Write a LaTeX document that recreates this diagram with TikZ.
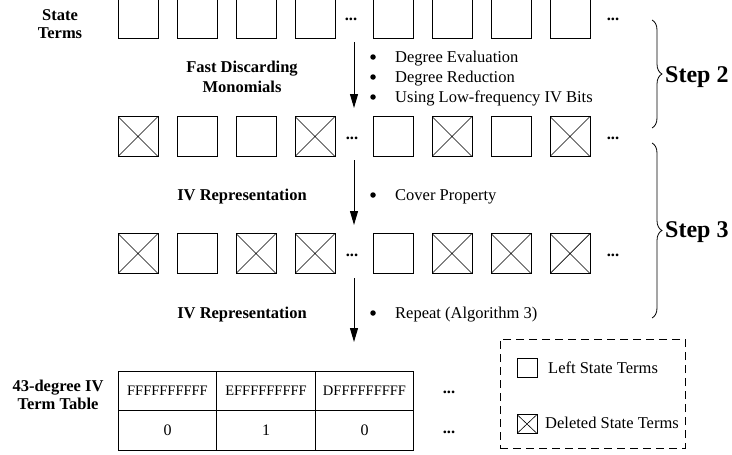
\documentclass[tikz,border=0pt]{standalone}
\usepackage{fontspec}
\setmainfont{Liberation Serif}
\usetikzlibrary{arrows.meta,decorations.pathreplacing}
\begin{document}
\begin{tikzpicture}[x=1pt,y=-1pt,
  sq/.style={draw, line width=0.9pt, minimum size=40pt, inner sep=0pt, outer sep=0pt},
  xsq/.style={sq, path picture={\draw[line width=0.7pt] (path picture bounding box.north west) -- (path picture bounding box.south east) (path picture bounding box.north east) -- (path picture bounding box.south west);}},
  lsq/.style={draw, line width=0.8pt, minimum width=20pt, minimum height=19pt, inner sep=0pt},
  lxsq/.style={lsq, path picture={\draw[line width=0.6pt] (path picture bounding box.north west) -- (path picture bounding box.south east) (path picture bounding box.north east) -- (path picture bounding box.south west);}},
  txt/.style={font=\fontsize{16.5}{19}\selectfont, inner sep=0pt, anchor=base},
  dts/.style={txt, font=\fontsize{16.5}{19}\selectfont\bfseries},
  btxt/.style={txt, font=\fontsize{16.5}{19}\selectfont\bfseries},
  ltxt/.style={txt, anchor=base west},
  bul/.style={circle, fill, inner sep=0pt, minimum size=5.5pt},
  arr/.style={line width=1pt, -{Triangle[width=8pt,length=14pt]}},
  brc/.style={decorate, decoration={brace, amplitude=10pt}, line width=0.8pt},
  steptxt/.style={font=\fontsize{24}{28}\selectfont\bfseries, inner sep=0pt, anchor=base west},
  cell/.style={draw, line width=0.9pt, minimum width=98.3pt, minimum height=39.5pt, inner sep=0pt, font=\fontsize{14.5}{17}\selectfont},
  dcell/.style={cell, font=\fontsize{16}{19}\selectfont}
]
\useasboundingbox (0,0) rectangle (732,455);

% row 1
\foreach \i/\x/\s in {1/138/sq,2/197/sq,3/256/sq,4/315/sq,5/393/sq,6/452/sq,7/511/sq,8/570/sq}
  \node[\s] (ra\i) at (\x,18) {};
% row 2
\foreach \i/\x/\s in {1/138/xsq,2/197/sq,3/256/sq,4/315/xsq,5/393/sq,6/452/xsq,7/511/sq,8/570/xsq}
  \node[\s] (rb\i) at (\x,136.5) {};
% row 3
\foreach \i/\x/\s in {1/138/xsq,2/197/sq,3/256/xsq,4/315/xsq,5/393/sq,6/452/xsq,7/511/xsq,8/570/xsq}
  \node[\s] (rc\i) at (\x,253.5) {};

% dots
\node[dts] (da1) at (351,20) {...};
\node[dts] (da2) at (613,20) {...};
\node[dts] (db1) at (352,139) {...};
\node[dts] (db2) at (613,139) {...};
\node[dts] (dc1) at (352,256) {...};
\node[dts] (dc2) at (613,256) {...};

% left labels
\node[btxt] (st1) at (60,20) {State};
\node[btxt] (st2) at (60,38) {Terms};
\node[btxt] (fd1) at (242,72) {Fast Discarding};
\node[btxt] (fd2) at (242,92) {Monomials};
\node[btxt] (iv1) at (242,200) {IV Representation};
\node[btxt] (iv2) at (242,318) {IV Representation};
\node[btxt] (tt1) at (58,391) {43-degree IV};
\node[btxt] (tt2) at (58,409) {Term Table};

% arrows
\coordinate (a1s) at (354,42);  \coordinate (a1e) at (354,108);
\coordinate (a2s) at (354,160); \coordinate (a2e) at (354,225);
\coordinate (a3s) at (354,278); \coordinate (a3e) at (354,342);
\draw[arr] (a1s) -- (a1e);
\draw[arr] (a2s) -- (a2e);
\draw[arr] (a3s) -- (a3e);

% bullets
\node[bul] (b1) at (373,57) {};
\node[ltxt] (bt1) at (395,62) {Degree Evaluation};
\node[bul] (b2) at (373,77) {};
\node[ltxt] (bt2) at (395,82) {Degree Reduction};
\node[bul] (b3) at (373,97) {};
\node[ltxt] (bt3) at (395,102) {Using Low-frequency IV Bits};
\node[bul] (b4) at (373,195) {};
\node[ltxt] (bt4) at (395,200) {Cover Property};
\node[bul] (b5) at (373,313) {};
\node[ltxt] (bt5) at (395,318) {Repeat (Algorithm 3)};

% braces
\coordinate (s2t) at (652,20);  \coordinate (s2b) at (652,128);
\coordinate (s3t) at (652,143); \coordinate (s3b) at (652,318);
\draw[brc] (s2t) -- (s2b);
\draw[brc] (s3t) -- (s3b);
\node[steptxt] (step2) at (665,82) {Step 2};
\node[steptxt] (step3) at (665,237) {Step 3};

% table
\node[cell] (t11) at (167.5,391) {FFFFFFFFFF};
\node[cell] (t12) at (266,391) {EFFFFFFFFF};
\node[cell] (t13) at (364.5,391) {DFFFFFFFFF};
\node[dcell] (t21) at (167.5,430.5) {0};
\node[dcell] (t22) at (266,430.5) {1};
\node[dcell] (t23) at (364.5,430.5) {0};
\node[dts] (td1) at (449,393) {...};
\node[dts] (td2) at (449,433) {...};

% legend
\node[draw, line width=0.8pt, dash pattern=on 8pt off 5pt, minimum width=185pt, minimum height=109pt, inner sep=0pt] (leg) at (592.5,393.5) {};
\node[lsq] (l1) at (527,367.5) {};
\node[ltxt] (l1t) at (548,373) {Left State Terms};
\node[lxsq] (l2) at (527,424) {};
\node[ltxt] (l2t) at (545,428) {Deleted State Terms};
\end{tikzpicture}
\end{document}
